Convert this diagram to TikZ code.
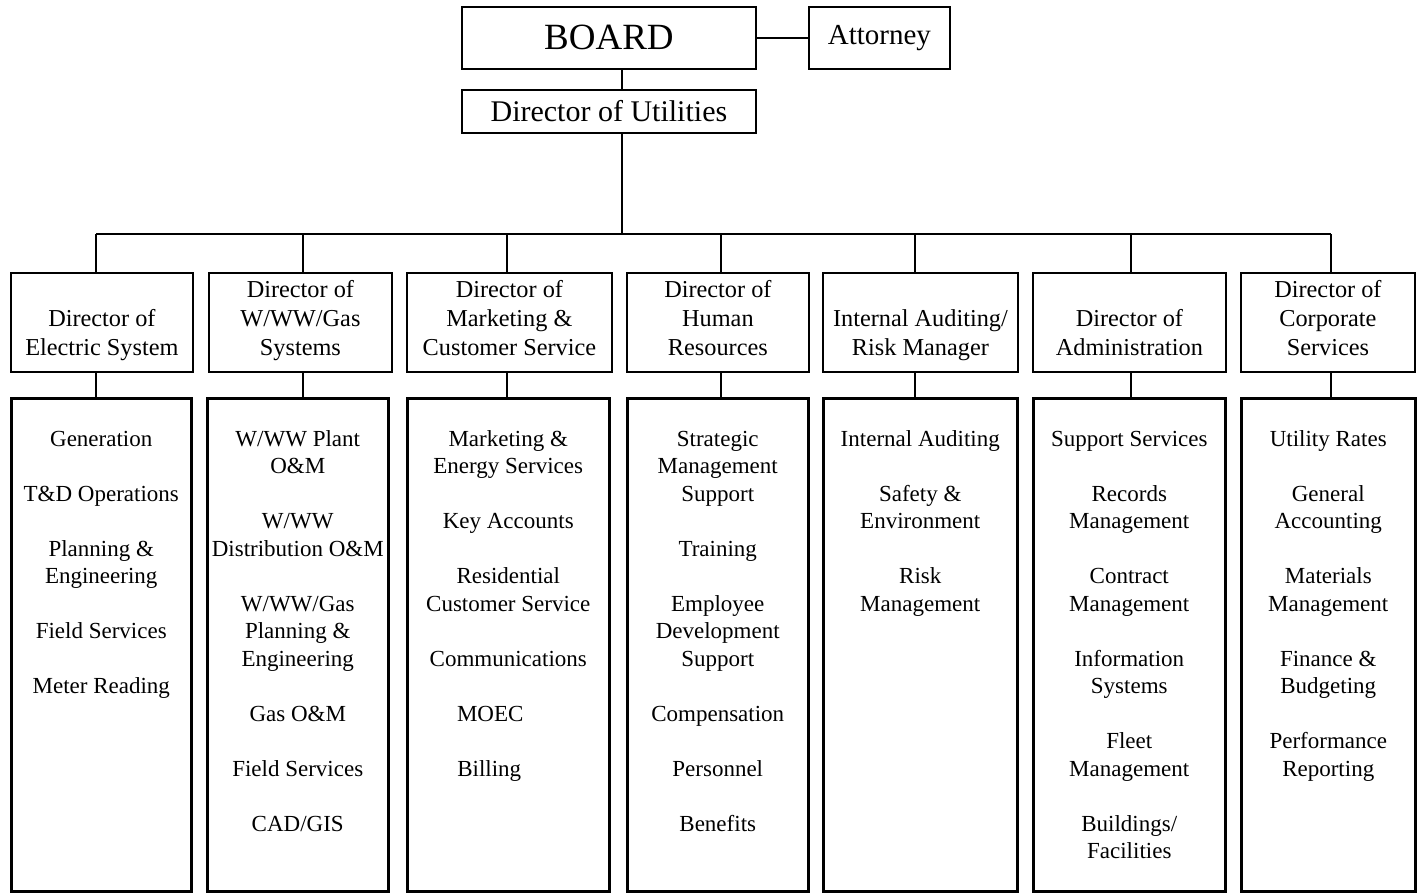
\documentclass[tikz,border=0pt]{standalone}
\usepackage{fontspec}
\setmainfont{Liberation Serif}
\newcommand\ds{\rule[-10pt]{0pt}{29pt}}
\begin{document}
\begin{tikzpicture}[x=1pt,y=-1pt,
  topbox/.style={draw, line width=1.8pt, inner sep=0pt, anchor=north west, align=center},
  dirbox/.style={draw, line width=1.8pt, inner sep=0pt, anchor=north west, align=center,
    minimum height=99pt, font=\fontsize{24.3}{29}\selectfont},
  subbox/.style={draw, line width=2.5pt, inner sep=0pt, anchor=north west, minimum height=493pt},
  subtext/.style={anchor=north, inner sep=0pt, align=center, yshift=-30pt,
    font=\fontsize{23}{27.5}\selectfont},
  conn/.style={line width=1.5pt}]
\useasboundingbox (0,0) rectangle (1420,892);

% top level
\node[topbox, minimum width=294pt, minimum height=62pt, font=\fontsize{37}{40}\selectfont] (board) at (461,6) {BOARD};
\node[topbox, minimum width=141pt, minimum height=62pt, font=\fontsize{29}{32}\selectfont] (att) at (808,6) {Attorney};
\node[topbox, minimum width=294pt, minimum height=43pt, font=\fontsize{30}{33}\selectfont] (dou) at (461,89) {Director of Utilities};

% directors
\node[dirbox, minimum width=182pt] (d1) at (10,272) {\ds\\ \ds Director of\\ \ds Electric System};
\node[dirbox, minimum width=183pt] (d2) at (208,272) {\ds Director of\\ \ds W/WW/Gas\\ \ds Systems};
\node[dirbox, minimum width=205pt] (d3) at (406,272) {\ds Director of\\ \ds Marketing \&\\ \ds Customer Service};
\node[dirbox, minimum width=182pt] (d4) at (626,272) {\ds Director of\\ \ds Human\\ \ds Resources};
\node[dirbox, minimum width=195pt] (d5) at (822,272) {\ds\\ \ds Internal Auditing/\\ \ds Risk Manager};
\node[dirbox, minimum width=193pt] (d6) at (1032,272) {\ds\\ \ds Director of\\ \ds Administration};
\node[dirbox, minimum width=174pt] (d7) at (1240,272) {\ds Director of\\ \ds Corporate\\ \ds Services};

% sub boxes
\node[subbox, minimum width=180pt] (s1) at (10,397) {};
\node[subbox, minimum width=181pt] (s2) at (206,397) {};
\node[subbox, minimum width=202pt] (s3) at (406,397) {};
\node[subbox, minimum width=181pt] (s4) at (626,397) {};
\node[subbox, minimum width=194pt] (s5) at (822,397) {};
\node[subbox, minimum width=192pt] (s6) at (1032,397) {};
\node[subbox, minimum width=174pt] (s7) at (1240,397) {};

\node[subtext] (t1) at (s1.north) {\strut Generation\\[27.5pt] T\&D Operations\\[27.5pt] Planning \&\\ Engineering\\[27.5pt] Field Services\\[27.5pt] Meter Reading};
\node[subtext] (t2) at (s2.north) {\strut W/WW Plant\\ O\&M\\[27.5pt] W/WW\\ Distribution O\&M\\[27.5pt] W/WW/Gas\\ Planning \&\\ Engineering\\[27.5pt] Gas O\&M\\[27.5pt] Field Services\\[27.5pt] CAD/GIS};
\node[subtext] (t3) at (s3.north) {\strut Marketing \&\\ Energy Services\\[27.5pt] Key Accounts\\[27.5pt] Residential\\ Customer Service\\[27.5pt] Communications\\[27.5pt] MOEC\hspace*{36pt}\mbox{}\\[27.5pt] Billing\hspace*{38pt}\mbox{}};
\node[subtext] (t4) at (s4.north) {\strut Strategic\\ Management\\ Support\\[27.5pt] Training\\[27.5pt] Employee\\ Development\\ Support\\[27.5pt] Compensation\\[27.5pt] Personnel\\[27.5pt] Benefits};
\node[subtext] (t5) at (s5.north) {\strut Internal Auditing\\[27.5pt] Safety \&\\ Environment\\[27.5pt] Risk\\ Management};
\node[subtext] (t6) at (s6.north) {\strut Support Services\\[27.5pt] Records\\ Management\\[27.5pt] Contract\\ Management\\[27.5pt] Information\\ Systems\\[27.5pt] Fleet\\ Management\\[27.5pt] Buildings/\\ Facilities};
\node[subtext] (t7) at (s7.north) {\strut Utility Rates\\[27.5pt] General\\ Accounting\\[27.5pt] Materials\\ Management\\[27.5pt] Finance \&\\ Budgeting\\[27.5pt] Performance\\ Reporting};

% connector coordinates
\coordinate (spine) at (622,0);
\coordinate (bus) at (0,234);
\coordinate (x1) at (96,0);
\coordinate (x2) at (303,0);
\coordinate (x3) at (507,0);
\coordinate (x4) at (721,0);
\coordinate (x5) at (915,0);
\coordinate (x6) at (1131,0);
\coordinate (x7) at (1331,0);

\draw[conn] (board.east) -- (att.west);
\draw[conn] (board.south -| spine) -- (dou.north -| spine);
\draw[conn] (dou.south -| spine) -- (bus -| spine);
\draw[conn] (bus -| x1) -- (bus -| x7);
\foreach \i in {1,...,7}{
  \draw[conn] (bus -| x\i) -- (d\i.north -| x\i);
  \draw[conn] (d\i.south -| x\i) -- (s\i.north -| x\i);
}
\end{tikzpicture}
\end{document}
